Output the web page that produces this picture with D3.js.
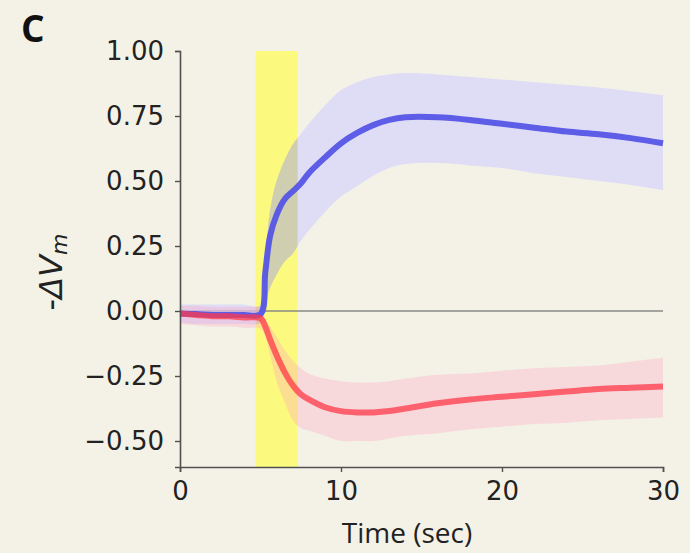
<!DOCTYPE html>
<html>
<head>
<meta charset="utf-8">
<script src="https://cdn.jsdelivr.net/npm/d3@7"></script>
<style>
  body { margin: 0; background: #f4f2e7; }
  svg { display: block; }
</style>
</head>
<body>
<svg id="chart"></svg>
<script>
// time points (sec)
const times = [0, 1, 2, 3, 4, 5.0, 5.3, 5.6, 6.0, 6.5, 7.0, 7.5, 8, 9, 10, 11, 12, 13, 14, 16, 18, 20, 22, 24, 26, 28, 30];

// blue trace: mean and band
const blueMean = [-0.01, -0.012, -0.015, -0.015, -0.015, -0.012, 0.15, 0.29, 0.37, 0.43, 0.46, 0.49, 0.53, 0.59, 0.645, 0.685, 0.715, 0.735, 0.745, 0.745, 0.735, 0.72, 0.705, 0.69, 0.68, 0.665, 0.645];
const blueHi = [0.025, 0.025, 0.025, 0.025, 0.025, 0.02, 0.2, 0.39, 0.5, 0.58, 0.64, 0.68, 0.72, 0.79, 0.85, 0.88, 0.9, 0.91, 0.915, 0.91, 0.9, 0.89, 0.88, 0.87, 0.86, 0.845, 0.83];
const blueLo = [-0.045, -0.05, -0.05, -0.05, -0.05, -0.045, 0.03, 0.09, 0.14, 0.19, 0.22, 0.27, 0.31, 0.38, 0.44, 0.48, 0.52, 0.55, 0.565, 0.57, 0.56, 0.55, 0.53, 0.515, 0.5, 0.485, 0.465];

// red trace: mean and band
const redMean = [-0.01, -0.015, -0.02, -0.02, -0.025, -0.028, -0.06, -0.11, -0.17, -0.235, -0.285, -0.32, -0.34, -0.37, -0.385, -0.39, -0.39, -0.385, -0.375, -0.355, -0.34, -0.33, -0.32, -0.31, -0.3, -0.295, -0.29];
const redHi = [0.02, 0.02, 0.015, 0.015, 0.015, 0.012, -0.03, -0.06, -0.1, -0.15, -0.19, -0.22, -0.24, -0.26, -0.27, -0.275, -0.275, -0.27, -0.26, -0.245, -0.24, -0.23, -0.22, -0.215, -0.21, -0.195, -0.18];
const redLo = [-0.05, -0.055, -0.06, -0.06, -0.065, -0.068, -0.1, -0.17, -0.27, -0.35, -0.42, -0.45, -0.46, -0.48, -0.5, -0.5, -0.5, -0.49, -0.48, -0.47, -0.455, -0.445, -0.435, -0.43, -0.42, -0.415, -0.41];

// stimulus window (sec)
const stimSpan = [4.7, 7.3];

const xTicks = [0, 10, 20, 30];
const yTicks = [-0.5, -0.25, 0, 0.25, 0.5, 0.75, 1.0];

const width = 690, height = 553;
const margin = { top: 51, right: 27, bottom: 86, left: 180 };

const svg = d3.select('#chart')
  .attr('width', width)
  .attr('height', height);

svg.append('rect')
  .attr('width', width)
  .attr('height', height)
  .attr('fill', '#f4f2e7');

const x = d3.scaleLinear().domain([0, 30]).range([margin.left, width - margin.right]);
const y = d3.scaleLinear().domain([-0.6, 1.0]).range([height - margin.bottom, margin.top]);

const curve = d3.curveCatmullRom.alpha(0.5);

// stimulus span
svg.append('clipPath')
  .attr('id', 'stim')
  .append('rect')
  .attr('x', x(stimSpan[0]))
  .attr('y', y(1.0))
  .attr('width', x(stimSpan[1]) - x(stimSpan[0]))
  .attr('height', y(-0.6) - y(1.0));

svg.append('rect')
  .attr('x', x(stimSpan[0]))
  .attr('y', y(1.0))
  .attr('width', x(stimSpan[1]) - x(stimSpan[0]))
  .attr('height', y(-0.6) - y(1.0))
  .attr('fill', '#fbf97e');

// zero line
svg.append('line')
  .attr('x1', x(0)).attr('x2', x(30))
  .attr('y1', y(0)).attr('y2', y(0))
  .attr('stroke', '#8a8a86')
  .attr('stroke-width', 1.6);

const area = (lo, hi) => d3.area()
  .x((d, i) => x(times[i]))
  .y0((d, i) => y(lo[i]))
  .y1((d, i) => y(hi[i]))
  .curve(curve)(times);

const line = (vals) => d3.line()
  .x((d, i) => x(times[i]))
  .y((d, i) => y(vals[i]))
  .curve(curve)(times);

// bands
svg.append('path')
  .attr('d', area(blueLo, blueHi))
  .attr('fill', '#cfcfff')
  .attr('fill-opacity', 0.6);

// blue band looks khaki where it sits over the stimulus span
svg.append('path')
  .attr('d', area(blueLo, blueHi))
  .attr('clip-path', 'url(#stim)')
  .attr('fill', '#bdb890')
  .attr('fill-opacity', 0.45);

svg.append('path')
  .attr('d', area(redLo, redHi))
  .attr('fill', '#ffa0c0')
  .attr('fill-opacity', 0.3);

// mean lines
svg.append('path')
  .attr('d', line(blueMean))
  .attr('fill', 'none')
  .attr('stroke', '#5555e6')
  .attr('stroke-opacity', 0.95)
  .attr('stroke-width', 6);

svg.append('path')
  .attr('d', line(redMean))
  .attr('fill', 'none')
  .attr('stroke', '#ff3848')
  .attr('stroke-opacity', 0.75)
  .attr('stroke-width', 6);

// axes
const xAxis = svg.append('g')
  .attr('transform', `translate(0,${y(-0.6)})`)
  .call(d3.axisBottom(x).tickValues(xTicks).tickSizeOuter(0).tickSize(5).tickPadding(10));

const yAxis = svg.append('g')
  .attr('transform', `translate(${x(0)},0)`)
  .call(d3.axisLeft(y).tickValues(yTicks).tickFormat(d3.format('.2f')).tickSizeOuter(0).tickSize(5).tickPadding(11));

[xAxis, yAxis].forEach(g => {
  g.select('.domain').attr('stroke', '#505050').attr('stroke-width', 1.6);
  g.selectAll('.tick line').attr('stroke', '#505050').attr('stroke-width', 1.4);
  g.selectAll('.tick text')
    .attr('fill', '#222')
    .style('font-family', 'DejaVu Sans')
    .style('font-size', '26px');
});

// labels
svg.append('text')
  .attr('x', 407)
  .attr('y', 543)
  .attr('text-anchor', 'middle')
  .style('font-family', 'Open Sans')
  .style('font-size', '28px')
  .attr('fill', '#222')
  .text('Time (sec)');

const yl = svg.append('text')
  .attr('transform', 'translate(62,272) rotate(-90)')
  .attr('text-anchor', 'middle')
  .style('font-family', 'DejaVu Sans')
  .style('font-size', '32px')
  .attr('fill', '#222');
yl.append('tspan').text('-');
yl.append('tspan').style('font-style', 'italic').text('ΔV');
yl.append('tspan').style('font-style', 'italic').style('font-size', '22px').attr('dy', 5).text('m');

svg.append('text')
  .attr('x', 21)
  .attr('y', 42)
  .style('font-family', 'Open Sans')
  .style('font-weight', 'bold')
  .style('font-size', '37px')
  .attr('fill', '#111')
  .text('C');
</script>
</body>
</html>
